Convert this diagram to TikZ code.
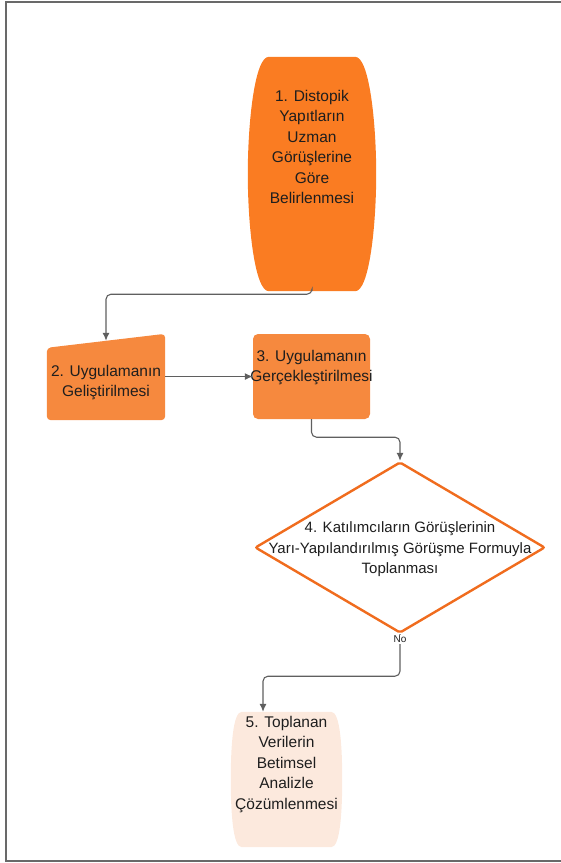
\documentclass[tikz,border=0pt]{standalone}
\usepackage{fontspec}
\setmainfont{Liberation Sans}
\usetikzlibrary{arrows.meta,shapes.geometric}
\definecolor{darkorange}{RGB}{250,124,34}
\definecolor{lightorange}{RGB}{246,137,62}
\definecolor{peach}{RGB}{252,233,221}
\definecolor{edgeorange}{RGB}{240,108,30}
\definecolor{linegray}{RGB}{95,95,95}
\definecolor{framegray}{RGB}{105,105,105}
\definecolor{textgray}{RGB}{30,30,30}
\tikzset{
  box/.style={inner sep=0pt},
  txt/.style={inner sep=0pt, align=center, text=textgray, font=\fontsize{15.5}{20.5}\selectfont},
  conn/.style={draw=linegray, line width=1.1pt, rounded corners=5pt, -{Latex[length=8pt,width=7pt]}},
}
\begin{document}
\begin{tikzpicture}[x=1pt,y=-1pt]
		\useasboundingbox (0,0) rectangle (561,863);
		\draw[framegray, line width=1.5pt] (570,2) -- (6,2) -- (6,861) -- (570,861);
		%
		\node[box, minimum width=128pt, minimum height=234pt] (n1) at (312,174) {};
		\fill[darkorange] ([xshift=21pt]n1.north west) -- ([xshift=-21pt]n1.north east)
			.. controls ([xshift=-7pt]n1.north east) and ([yshift=-65pt]n1.north east) .. (n1.east)
			.. controls ([yshift=65pt]n1.south east) and ([xshift=-7pt]n1.south east) .. ([xshift=-21pt]n1.south east)
			-- ([xshift=21pt]n1.south west)
			.. controls ([xshift=7pt]n1.south west) and ([yshift=65pt]n1.south west) .. (n1.west)
			.. controls ([yshift=-65pt]n1.north west) and ([xshift=7pt]n1.north west) .. cycle;
		\node[txt, anchor=north] (t1) at ([yshift=-33pt]n1.north) {1. Distopik\\Yapıtların\\Uzman\\Görüşlerine\\Göre\\Belirlenmesi};
		%
		\node[box, minimum width=118pt, minimum height=79pt] (n2) at (106,380.5) {};
		\fill[lightorange, rounded corners=4pt] (n2.south west) -- (n2.south east) -- ([yshift=7pt]n2.north east) -- ([yshift=-7pt]n2.north west) -- cycle;
		\node[txt] (t2) at ([yshift=-2pt]n2.center) {2. Uygulamanın\\Geliştirilmesi};
		%
		\node[box, fill=lightorange, rounded corners=5pt, minimum width=117pt, minimum height=85pt] (n3) at (311.5,376.5) {};
		\node[txt, anchor=north] (t3) at ([yshift=-16pt]n3.north) {3. Uygulamanın\\Gerçekleştirilmesi};
		%
		\node[diamond, draw=edgeorange, fill=white, line width=2.4pt, inner sep=0pt, rounded corners=2pt, minimum width=290pt, minimum height=171pt] (n4) at (400,547.5) {};
		\node[txt, font=\fontsize{15}{20.5}\selectfont] (t4) at ([yshift=-2pt]n4.center) {4. Katılımcıların Görüşlerinin\\Yarı-Yapılandırılmış Görüşme Formuyla\\Toplanması};
		%
		\node[box, minimum width=111pt, minimum height=135pt] (n5) at (286.5,779.5) {};
		\fill[peach] ([xshift=11pt]n5.north west) -- ([xshift=-11pt]n5.north east)
			.. controls ([xshift=-2pt]n5.north east) and ([yshift=-35pt]n5.north east) .. (n5.east)
			.. controls ([yshift=35pt]n5.south east) and ([xshift=-2pt]n5.south east) .. ([xshift=-11pt]n5.south east)
			-- ([xshift=11pt]n5.south west)
			.. controls ([xshift=2pt]n5.south west) and ([yshift=35pt]n5.south west) .. (n5.west)
			.. controls ([yshift=-35pt]n5.north west) and ([xshift=2pt]n5.north west) .. cycle;
		\node[txt, anchor=north] (t5) at ([yshift=-4pt]n5.north) {5. Toplanan\\Verilerin\\Betimsel\\Analizle\\Çözümlenmesi};
		%
		\draw[conn] (n1.south) -- ++(0,3) -| (n2.north);
		\draw[conn] (n2.east |- n3.west) -- (n3.west);
		\draw[conn] (n3.south) -- ++(0,18) -| (n4.north);
		\draw[conn] (n4.south) -- ++(0,42) -| ([xshift=-23.5pt]n5.north);
		\node[fill=white, inner sep=1pt, text=textgray, font=\fontsize{10}{12}\selectfont] (no) at ([yshift=-5pt]n4.south) {No};
	\end{tikzpicture}
\end{document}
